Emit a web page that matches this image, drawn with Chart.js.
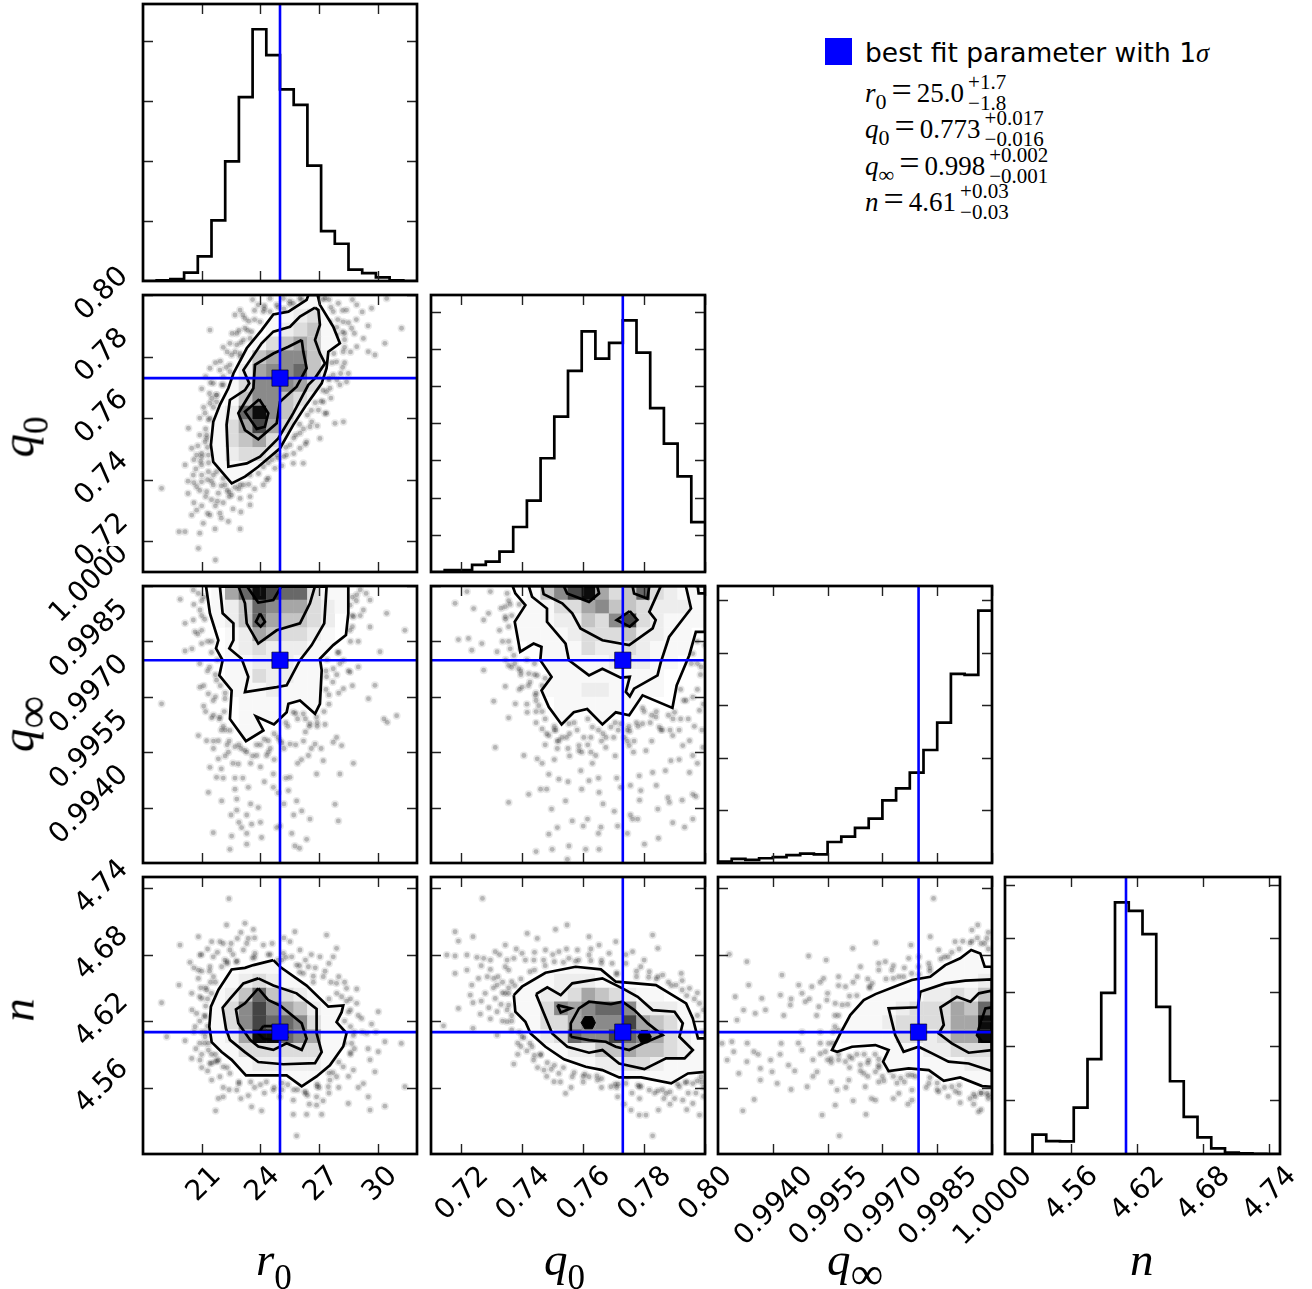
<!DOCTYPE html>
<html>
<head>
<meta charset="utf-8">
<title>corner plot</title>
<script src="https://cdn.jsdelivr.net/npm/chart.js@4"></script>
<style>
html, body { margin: 0; padding: 0; background: #fff; overflow: hidden; width: 1312px; height: 1289px; }
canvas { position: absolute; display: block; }
.txt { position: absolute; white-space: nowrap; color: #000; line-height: 1; }
.math { font-family: "Liberation Serif", serif; }
.math i { font-style: italic; }
.axisname { font-size: 47px; }
.axisname sub { font-size: 35px; vertical-align: -14px; line-height: 0; font-style: normal; }
.axisname sub.inf { font-size: 46px; }
.eq { font-size: 27px; }
.eq sub.low { font-size: 22px; vertical-align: -7px; line-height: 0; }
.eq .same { font-size: 36px; line-height: 0; margin: 0 5px 0 5px; }
.ss { display: inline-block; position: relative; width: 0; vertical-align: baseline; }
.ss span { position: absolute; left: 4px; font-size: 21px; white-space: nowrap; }
</style>
</head>
<body>
<script>
// tick labels
var r0Ticks = [21, 24, 27, 30];
var q0Ticks = [0.72, 0.74, 0.76, 0.78, 0.80];
var qInfTicks = [0.9940, 0.9955, 0.9970, 0.9985, 1.0000];
var nTicks = [4.56, 4.62, 4.68, 4.74];

// axis ranges
var r0Range = [18, 32];
var q0Range = [0.71, 0.80];
var qInfRange = [0.9925, 1.0];
var nRange = [4.5, 4.75];

// best fit values
var bestFit = { r0: 25.0, q0: 0.773, qInf: 0.99799, n: 4.61 };

// 1d histograms, 20 bins each
var r0Hist = [0, 1, 3, 14, 41, 101, 199, 306, 419, 376, 319, 293, 192, 83, 62, 19, 13, 6, 1, 0];
var q0Hist = [0, 5, 5, 19, 28, 55, 121, 192, 306, 418, 541, 647, 574, 616, 677, 590, 441, 345, 257, 134];
var qInfHist = [2.5, 8, 6, 9, 11, 15, 18, 16.5, 40, 50, 67, 84.5, 119, 142, 172, 215, 267, 360, 358, 480];
var nHist = [0, 0, 36, 24, 23.5, 86, 176, 299, 467, 451, 408, 273, 135, 69, 31, 10.5, 2.5, 1, 0.5, 0];

var r0HistTicks = [100, 200, 300, 400];
var q0HistTicks = [100, 200, 300, 400, 500, 600, 700];
var qInfHistTicks = [100, 200, 300, 400, 500];
var nHistTicks = [100, 200, 300, 400, 500];
var r0HistMax = 461, q0HistMax = 745, qInfHistMax = 527, nHistMax = 514;

// 2d histogram levels, one string per row from the top, one digit per column
var r0Q0Cells = ["00000000001111", "00000000011231", "00000000012341", "000000001345411", "00000001456642", "00000002566742", "00000013666531", "00000014664320", "00000127964210", "00000135853200", "00000134532100", "00000123321000", "00000111110000", "00000011000000"];
var r0QInfCells = ["0000015798773110", "0000012476553210", "0000012475443200", "00000012543321", "00000012322211", "000000112221110", "00000011322111", "00000011121111", "0000000111111", "0000000111", "000000011"];
var q0QInfCells = ["00000001468953473211", "00000011133564432221", "00000011122436832111", "0000001111233342211", "0000000111132232111", "000000001111122211", "00000000111111111", "00000000111221111", "0000000001111111", "00000000011111"];
var r0NCells = ["", "", "", "", "", "", "00000001111", "000000123211", "0000012474321", "000001368654211", "000001368776311", "000001259976511", "000001133333311", "00000011222221", "0000000111111"];
var q0NCells = ["", "", "", "", "", "", "0000000011111", "00000001122211", "00000011223543211", "0000001136567762221", "00000011335666854311", "00000001237668765321", "00000001112244544321", "00000000111122332111", "00000000000111111111"];
var qInfNCells = ["", "", "", "", "", "0000000000000000011", "00000000000000001111", "00000000000000111112", "00000000000111122324", "00000000001112333547", "00000000011123333559", "00000000011113323559", "00000000000011122333", "00000000000011111122", "00000000000000011111"];

// contour outlines, outermost first
var r0Q0Contours = [
  [[26.45,.8],[26.36,.7984],[25.43,.7946],[24.66,.7937],[24.06,.7886],[23.3,.7827],[22.62,.7745],[22.36,.7697],[21.93,.7643],[21.59,.7588],[21.47,.7513],[21.59,.7458],[22.53,.7388],[23.21,.741],[23.89,.7442],[25,.7502],[25.68,.7578],[26.28,.7637],[27.13,.7713],[27.38,.7762],[27.47,.7816],[28.06,.7843],[27.72,.7897],[27.04,.7968],[26.92,.8]],
  [[26.79,.7959],[26.02,.793],[25.51,.7897],[24.66,.7881],[24.06,.7843],[23.13,.7756],[23.43,.7713],[23.21,.7691],[22.44,.7659],[22.27,.7578],[22.36,.7442],[23.3,.7453],[23.98,.7475],[24.91,.7534],[25.68,.7616],[26.45,.7708],[26.79,.773],[27.3,.7778],[27.04,.781],[26.79,.7854],[27.04,.7903],[26.96,.7951]],
  [[26.11,.7854],[25.43,.7832],[24.66,.781],[23.72,.7773],[23.64,.7697],[22.87,.7616],[23.21,.7561],[23.89,.7531],[24.83,.7583],[25,.7653],[25.85,.7702],[26.36,.7762],[26.19,.7816]],
  [[23.94,.7661],[23.21,.7621],[23.81,.7565],[24.23,.7572],[24.4,.7616]]
];
var r0QInfContours = [
  [[21.22,1],[21.42,.99926],[21.85,.99853],[21.73,.99831],[22.07,.99799],[21.9,.99758],[22.53,.99717],[22.44,.9964],[23.26,.9958],[24.15,.99609],[23.77,.99647],[24.69,.99625],[25.34,.99658],[25.43,.99681],[26.02,.9969],[26.79,.99654],[27.04,.99681],[27.13,.99772],[27.04,.99803],[27.72,.9984],[28.37,.99867],[28.49,.99926],[28.49,1]],
  [[21.93,.99998],[22.07,.99926],[22.62,.99899],[22.62,.99853],[22.41,.99831],[23.04,.99803],[23.38,.99754],[23.21,.99713],[24.83,.99726],[25.34,.99731],[26.02,.99799],[26.62,.9984],[27.26,.99899],[27.38,.99998]],
  [[22.87,1],[23.21,.99953],[23.3,.99899],[23.89,.99844],[24.83,.9988],[26.02,.99899],[26.53,.99953],[26.79,1]],
  [[23.3,1],[23.89,.99955],[24.66,.99962],[25.08,1]],
  [[23.98,.99926],[23.77,.99903],[24.01,.9989],[24.23,.99903]]
];
var q0QInfContours = [
  [[.7368,1],[.7377,.9998],[.741,.99948],[.7375,.99903],[.7393,.99822],[.7437,.99844],[.7463,.99835],[.7459,.99799],[.7496,.99754],[.7463,.99717],[.7487,.99672],[.7529,.99625],[.7569,.99658],[.7613,.99667],[.7663,.99625],[.7707,.99658],[.7751,.9965],[.7795,.99704],[.7893,.9967],[.7907,.99731],[.7948,.99812],[.797,.99876],[.8,.99876],[.8,1]],
  [[.7421,1],[.7432,.99971],[.7481,.99939],[.7481,.99903],[.7542,.99844],[.7553,.99799],[.7619,.99758],[.7663,.99776],[.7723,.99752],[.7753,.99754],[.774,.99713],[.7753,.99701],[.7767,.99722],[.7844,.99758],[.7855,.99794],[.7882,.99862],[.7954,.99939],[.7937,1]],
  [[.7465,1],[.747,.99978],[.7531,.99953],[.7564,.99926],[.7591,.99885],[.7663,.99853],[.7751,.9984],[.7828,.99885],[.7838,.99908],[.7817,.9993],[.7855,1]],
  [[.7536,1],[.7547,.9998],[.7619,.99957],[.7652,.9998],[.7646,1]],
  [[.7762,1],[.7767,.9998],[.7811,.99966],[.7817,1]],
  [[.7753,.99932],[.771,.99908],[.7753,.9989],[.7778,.99908]],
  [[.7976,1],[.7979,.9998],[.8,.9998],[.8,1]]
];
var r0NContours = [
  [[24.66,4.675],[23.64,4.6705],[23.21,4.668],[22.53,4.6666],[21.85,4.648],[21.47,4.633],[21.39,4.615],[21.51,4.601],[22.02,4.592],[22.53,4.585],[23.26,4.571],[25.34,4.571],[26.11,4.561],[26.87,4.57],[27.55,4.58],[28.23,4.597],[28.4,4.609],[27.89,4.619],[28.15,4.628],[28.23,4.634],[27.47,4.633],[26.36,4.652],[25,4.669]],
  [[23.89,4.6585],[23.13,4.654],[22.44,4.64],[22.07,4.632],[22.24,4.613],[22.44,4.603],[23.21,4.592],[23.89,4.583],[25.17,4.581],[26.79,4.582],[27.13,4.592],[26.87,4.609],[26.87,4.631],[25.85,4.645],[24.66,4.652]],
  [[23.89,4.6495],[23.21,4.636],[22.75,4.6305],[22.87,4.618],[23.47,4.603],[23.89,4.597],[24.66,4.594],[25.34,4.6],[26.11,4.594],[26.36,4.604],[26.11,4.618],[25,4.634],[24.39,4.639]],
  [[24.15,4.6155],[23.89,4.609],[24.15,4.604],[24.66,4.603],[25.34,4.606],[25,4.6155]]
];
var q0NContours = [
  [[.7372,4.6434],[.7399,4.651],[.7476,4.6636],[.7575,4.669],[.7658,4.6666],[.7707,4.6555],[.7839,4.6525],[.7938,4.6359],[.796,4.6224],[.7977,4.6043],[.8,4.6043],[.8,4.5742],[.7944,4.5727],[.7889,4.5637],[.779,4.5691],[.7718,4.5691],[.7663,4.5757],[.7608,4.5787],[.7537,4.5854],[.7476,4.5968],[.7427,4.6088],[.741,4.6194],[.7377,4.6284]],
  [[.7445,4.6443],[.7482,4.6504],[.7526,4.6434],[.7564,4.654],[.7663,4.6585],[.7729,4.6495],[.7779,4.6419],[.7828,4.6299],[.79,4.6284],[.7927,4.6179],[.7916,4.6058],[.796,4.5938],[.7933,4.5863],[.7872,4.5863],[.7801,4.5766],[.7718,4.5817],[.7663,4.5938],[.7619,4.5914],[.7548,4.5968],[.7498,4.6088],[.7471,4.6269]],
  [[.7559,4.6058],[.7559,4.6179],[.7586,4.6314],[.7619,4.6374],[.7691,4.6353],[.7729,4.6374],[.7768,4.6299],[.7812,4.6179],[.7861,4.6073],[.7795,4.5998],[.7751,4.5938],[.7707,4.5968],[.7674,4.6013],[.7619,4.6028]],
  [[.7515,4.6344],[.7559,4.6314],[.7526,4.6278]]
];
var q0NBlobs = [
  [[.7605,4.624],[.763,4.624],[.764,4.6185],[.763,4.613],[.7605,4.613],[.7593,4.6185]],
  [[.779,4.6113],[.7812,4.6113],[.7824,4.6058],[.7812,4.6003],[.779,4.6003],[.778,4.6058]]
];
var qInfNContours = [
  [[1,4.669],[.9998,4.669],[.99968,4.681],[.99943,4.6841],[.99913,4.6766],[.99872,4.6705],[.99831,4.66],[.99781,4.657],[.99745,4.6525],[.99681,4.6443],[.99649,4.6389],[.99612,4.6254],[.99585,4.6088],[.99562,4.5938],[.99576,4.5923],[.99617,4.5968],[.99681,4.5983],[.99717,4.5938],[.99702,4.5833],[.99717,4.5748],[.99772,4.5772],[.99827,4.5757],[.99868,4.5661],[.99913,4.5691],[.99973,4.5613],[1,4.5607]],
  [[1,4.6576],[.99927,4.6565],[.99872,4.654],[.99804,4.6465],[.99797,4.6324],[.99717,4.6314],[.99735,4.6073],[.99758,4.5923],[.99799,4.5968],[.99836,4.5908],[.99881,4.5833],[.99936,4.5817],[1,4.5748]],
  [[1,4.6474],[.99964,4.645],[.99941,4.6374],[.99904,4.6419],[.99859,4.6323],[.99868,4.6164],[.99854,4.6088],[.9989,4.5998],[.99936,4.5914],[1,4.5938]],
  [[1,4.6323],[.99982,4.6314],[.99964,4.6134],[.99959,4.6073],[.99973,4.6013],[1,4.6013]]
];

// samples outside the outer contour
var r0Q0Dots = [[18.95,.7372],[20.83,.7177],[21.7,.7139],[19.84,.7231],[20.15,.7231],[20.9,.7226],[21.68,.724],[22.96,.724],[20.49,.7285],[20.74,.7301],[21.08,.7258],[21.42,.7285],[21.93,.7291],[22.36,.7264],[23.47,.7345],[23.47,.7318],[22.53,.735],[20.74,.7377],[20.99,.7393],[21.25,.7361],[21.59,.7383],[21.85,.7356],[22.19,.7383],[20.57,.7415],[20.15,.7448],[20.74,.748],[20.49,.7502],[21.17,.7523],[21.34,.7426],[20.99,.7448],[22.96,.7339],[23.13,.7383],[24.15,.7383],[24.32,.7399],[24.74,.7437],[25.68,.7453],[26.19,.7453],[25.34,.748],[26.02,.7502],[26.53,.7572],[27.04,.7534],[26.36,.7523],[27.38,.7616],[27.81,.7583],[28.24,.7588],[28.06,.7708],[27.55,.7697],[28.4,.7718],[28.49,.7745],[29.51,.7816],[29.85,.7805],[30.36,.7843],[31.21,.7892],[29.68,.7957],[30.45,.7989],[28.92,.7832],[29.26,.7859],[28.66,.7892],[28.4,.7951],[27.98,.7973],[28.23,.7913],[27.72,.7946],[28.92,.7968],[22.96,.7951],[23.89,.7968],[23.21,.7924],[21.42,.7886],[22.79,.7875],[23.21,.7892],[23.55,.7881],[22.44,.7843],[22.79,.7838],[23.13,.7854],[22.53,.7805],[22.96,.781],[21.42,.7762],[21.93,.7756],[22.44,.7773],[21.59,.7713],[22.02,.7708],[21.42,.7648],[21.17,.7616],[21.51,.7664],[21.76,.7675],[20.32,.7567],[21.25,.7545],[24.49,.7989],[24.83,.7968],[25.17,.7989],[25.68,.7973],[26.02,.7989],[24.15,.7946],[27.38,.7686],[27.21,.7653],[26.96,.7626],[26.62,.7588],[26.02,.7551],[25.51,.7513],[24.83,.748],[24.15,.7442],[23.47,.7415],[22.96,.7383],[22.1,.7404],[21.76,.7426],[21.34,.748],[21.25,.7534],[21.42,.7599],[21.76,.7653],[22.1,.7708],[22.44,.7751],[22.96,.78],[23.47,.7859],[23.98,.7913],[24.49,.7946],[27.55,.7913],[27.89,.787],[28.23,.7816],[27.89,.7783],[27.72,.774],[27.6,.7665],[27.3,.7615],[26.9,.7575],[26.3,.7515],[25.7,.7485],[25.1,.7445],[24.4,.7405],[23.7,.737],[22.3,.7365],[21.5,.7395],[21,.7475],[20.9,.7545],[21.1,.7635],[21.45,.7715],[21.95,.7785],[22.55,.7875],[23.1,.7935],[23.6,.7985],[28.3,.7875],[28.6,.7815],[28.2,.7765]];
var r0Q0MoreDots = [[20.3,.7395],[20.6,.739],[20.9,.7365],[21.2,.7345],[21.5,.7335],[21.8,.733],[22.1,.7325],[22.4,.7345],[22.7,.7375],[21,.7415],[21.3,.74],[20.7,.7435],[20.95,.746],[20.6,.7465],[20.8,.751],[21,.7485],[20.6,.7325],[21,.7315],[21.3,.729],[21.7,.7315],[22,.7275],[22.6,.7305],[23,.7295],[20.3,.7355],[24.6,.7465],[25.2,.7475],[25.8,.7545],[26.2,.7565],[26.6,.7625],[27.1,.7655],[27.5,.7725],[27.9,.7725],[28.1,.7745],[28.3,.778],[27.9,.7895],[28.2,.795],[28.5,.791],[28.9,.792],[28.3,.7855],[28.8,.7875],[27.5,.7985],[27.2,.7985],[28.7,.7985],[29.2,.7945],[29.5,.79],[23.4,.7915],[23.7,.795],[24.2,.7965],[22.9,.7885],[22.3,.7815],[22.1,.783],[21.7,.778],[21.2,.7735],[21.4,.768],[21,.7695],[20.9,.76],[22.7,.7935],[25.5,.798],[26,.7955],[25.2,.7955]];
var r0Q0RimDots = [[21.2,.7565],[21.3,.7505],[21.35,.7455],[21.6,.7415],[22,.738],[22.4,.736],[22.9,.737],[23.4,.7385],[23.9,.742],[24.4,.7455],[24.9,.747],[25.3,.7505],[25.7,.7535],[26,.758],[26.4,.761],[26.8,.765],[27.2,.769],[27.5,.773],[27.65,.778],[27.75,.781],[28.3,.783],[28.2,.788],[27.95,.792],[27.6,.796],[27.3,.799],[21.75,.7675],[21.6,.7635],[21.35,.7595],[22.1,.7735],[22.25,.7765],[22.7,.7815],[23,.7845],[23.35,.7885],[23.7,.792],[24.2,.7955],[24.9,.796],[25.5,.797],[26.1,.7985]];
var r0QInfDots = [[18.95,.99681],[20.15,.99824],[20.15,.99899],[19.9,.99964],[20.66,.99876],[20.57,.99908],[20.91,.99935],[21,.9988],[20.91,.99726],[21.34,.99708],[22.19,.99695],[21.59,.9969],[21.51,.99643],[21.93,.99645],[21.76,.99745],[20.83,.99595],[21.25,.99581],[21.85,.99581],[22.36,.9955],[21.85,.99532],[22.44,.99609],[23.3,.9955],[23.81,.99541],[24.32,.99541],[24.4,.99581],[25,.99581],[25.51,.99572],[26.19,.99654],[25.68,.99658],[26.53,.99627],[26.87,.99645],[26.79,.99572],[27.72,.99577],[28.15,.99568],[26.45,.99541],[28.75,.9952],[27.89,.9959],[27.21,.99527],[28.06,.99491],[26.87,.99491],[21.76,.99482],[21.42,.99509],[22.87,.99518],[23.38,.99455],[22.79,.99423],[22.79,.99393],[23.89,.994],[22.02,.99418],[21.34,.99441],[24.66,.99491],[25.51,.99482],[25.43,.99446],[25.85,.99418],[24.66,.99455],[26.53,.99369],[26.11,.99391],[27.81,.99409],[27.98,.99364],[24.06,.99319],[23.3,.99301],[22.44,.99287],[23.04,.99346],[23.55,.99355],[22.53,.99323],[21.59,.99332],[24.83,.99346],[25.76,.99296],[26.36,.99314],[28.24,.99799],[28.06,.9979],[27.72,.99776],[27.38,.99754],[28.58,.99767],[29,.99781],[28.24,.99722],[28.92,.99976],[29.6,.99962],[29.26,.99935],[28.75,.99917],[28.58,.9988],[29.6,.99889],[30.45,.99926],[30.11,.99822],[31.38,.9988],[29.52,.99695],[29.85,.99731],[30.31,.9964],[30.48,.99631],[30.96,.99649],[28.58,.99948],[20.83,.9998],[20.57,.99989],[21,.99844],[22.1,.9962],[22.9,.9957],[24,.9951],[24.7,.9953],[25.3,.9948],[25.9,.9952],[26.3,.99605],[27.3,.99625],[27.5,.99705],[27.7,.9974],[21.3,.9977],[21.1,.99675],[21.6,.9956],[22,.99505],[22.7,.9948],[23.5,.9952],[26.2,.9958],[27.1,.9956]];
var r0QInfMoreDots = [[21.2,.9966],[21.6,.9965],[22,.9961],[22.3,.9957],[21.6,.9958],[22.2,.9954],[22.6,.9952],[23,.9956],[23.6,.9954],[24,.9957],[24.5,.9956],[24.9,.9959],[25.4,.9962],[25.9,.9964],[26.5,.9962],[26.9,.9962],[25.2,.9956],[25.8,.9957],[26.1,.9953],[26.6,.9956],[21.1,.9973],[21.4,.9978],[21.3,.9985],[21,.9992],[21.1,.9997],[20.6,.9995],[20.8,.9987],[20.5,.9983],[20.9,.9979],[28,.9982],[28.5,.9977],[27.9,.9976],[27.5,.9968],[28,.9971],[28.7,.9973],[28.7,.9989],[29.1,.9992],[29,.9985],[28.9,.9996],[29.4,.9998],[29.1,.9999],[22.1,.9948],[22.7,.9945],[23.1,.9948],[24.2,.9947],[24.9,.9944],[25.2,.9941],[25.7,.9938],[23.5,.9941],[23.3,.9938],[24,.9936],[22.5,.9938],[22.9,.9936],[23.3,.9933],[25,.9935],[25.6,.9933],[26,.9929]];
var r0QInfRimDots = [[21,.9996],[21.15,.9991],[21.5,.9985],[21.5,.9982],[21.8,.998],[21.7,.9976],[22.2,.9971],[22.15,.9966],[22.2,.9961],[22.7,.99565],[23.2,.99555],[23.8,.9957],[24.2,.99585],[24.7,.996],[25.3,.9963],[25.8,.99655],[26.3,.9964],[26.9,.9963],[27.25,.9966],[27.35,.9972],[27.35,.9977],[27.4,.998],[27.95,.9982],[28.6,.9985],[28.7,.9992],[28.7,.9997],[21.95,.9973],[21.7,.997],[21.9,.9964],[22.4,.9958],[24.4,.9955],[25.1,.99575]];
var q0QInfDots = [[.7179,.99953],[.724,.99939],[.7218,.99985],[.7295,.99985],[.7344,.99944],[.7289,.99926],[.7273,.99908],[.7267,.99844],[.7344,.99917],[.7223,.99858],[.719,.99855],[.7234,.99826],[.7317,.99822],[.7372,.99812],[.7355,.99785],[.7388,.99776],[.7273,.99772],[.7421,.99763],[.7449,.99758],[.7344,.99728],[.7399,.99726],[.7443,.99704],[.7306,.99688],[.7377,.99681],[.7454,.99676],[.7355,.99643],[.7416,.99658],[.7465,.99613],[.7487,.99595],[.752,.99581],[.7586,.99568],[.7602,.9959],[.763,.99618],[.7553,.99627],[.7691,.99618],[.7724,.99627],[.7753,.99607],[.7767,.9958],[.7795,.99627],[.7839,.99645],[.7894,.99595],[.7927,.99568],[.796,.99541],[.7949,.99581],[.785,.99618],[.7806,.99554],[.7751,.99568],[.7674,.99563],[.7641,.99541],[.7586,.99554],[.7311,.99563],[.7405,.99541],[.7449,.99532],[.752,.99477],[.7487,.9949],[.7592,.995],[.7619,.99473],[.7652,.99441],[.7723,.99455],[.7784,.99486],[.7789,.99446],[.7828,.99495],[.7888,.99527],[.7949,.99495],[.7878,.99427],[.7883,.99414],[.7845,.99396],[.796,.99436],[.7355,.99414],[.746,.9945],[.7421,.99436],[.7542,.99418],[.7496,.99396],[.7564,.99364],[.7614,.99369],[.7702,.9939],[.7658,.99347],[.7515,.99346],[.7487,.99328],[.7762,.99369],[.7779,.99369],[.7894,.99359],[.7933,.99347],[.796,.99369],[.7847,.99317],[.7801,.99301],[.7713,.9935],[.7445,.99281],[.7498,.99287],[.7548,.9926],[.7608,.99287],[.7652,.99287],[.7553,.99296],[.7993,.99563],[.7982,.99663],[.796,.99699],[.7987,.99781],[.796,.99817],[.7938,.9969],[.79,.99658],[.7445,.9966],[.7475,.9964],[.751,.9961],[.7545,.9959],[.758,.9961],[.7625,.9959],[.766,.9958],[.77,.9959],[.7735,.9959],[.778,.9962],[.782,.9963],[.788,.9965],[.792,.9964],[.7975,.9972],[.7975,.9979],[.742,.9973],[.7395,.9977],[.736,.9983]];
var q0QInfMoreDots = [[.7445,.9969],[.7415,.9968],[.739,.9972],[.7425,.9974],[.7465,.9973],[.7395,.9976],[.7365,.9978],[.7345,.998],[.7335,.9985],[.7325,.9988],[.7345,.9991],[.733,.9994],[.736,.9995],[.735,.9998],[.7505,.9962],[.7475,.9957],[.7515,.9956],[.7555,.996],[.755,.9956],[.7595,.9955],[.7615,.9957],[.765,.9961],[.7675,.9959],[.7715,.9961],[.7745,.9961],[.7775,.9963],[.78,.9966],[.7825,.9965],[.786,.9961],[.7885,.9961],[.7915,.9961],[.7945,.9964],[.7965,.9962],[.799,.9961],[.7995,.9968],[.7985,.9976],[.793,.9969],[.7825,.9958],[.7765,.9955],[.7705,.9954],[.763,.9952],[.7555,.9954],[.7505,.9953],[.7465,.9952],[.748,.9945],[.755,.9947],[.7595,.9945],[.765,.9948],[.771,.9948],[.7755,.9946],[.787,.995],[.7915,.9953],[.7975,.9952],[.797,.9943],[.7925,.9942],[.784,.9946],[.7665,.9941],[.7755,.9938],[.7745,.9933],[.765,.9933],[.76,.9935],[.7785,.9942]];
var q0QInfRimDots = [[.7355,.9996],[.7365,.9992],[.7355,.9985],[.7375,.9979],[.7415,.998],[.744,.9979],[.744,.9976],[.7475,.9975],[.7445,.9971],[.7465,.9966],[.7505,.9961],[.753,.9959],[.757,.9963],[.7615,.9964],[.7665,.996],[.7705,.9963],[.775,.9962],[.7795,.9967],[.784,.9966],[.7895,.9964],[.792,.9972],[.7955,.9979],[.7975,.9985],[.8,.9984],[.7855,.9961],[.7745,.9958],[.7625,.9955],[.7515,.9958],[.748,.996],[.7445,.9963],[.7395,.9983],[.7355,.9989],[.739,.9995]];
var r0NDots = [[22.39,4.7304],[22.27,4.7067],[23.21,4.7082],[23.64,4.7027],[22.82,4.6946],[23.38,4.6946],[20.83,4.6961],[19.89,4.6886],[21.51,4.6916],[21.93,4.6916],[22.44,4.6841],[23.13,4.6841],[23.72,4.6811],[24.15,4.6886],[20.91,4.6796],[21.59,4.678],[22.18,4.675],[22.77,4.6735],[20.83,4.666],[21.42,4.669],[22.02,4.669],[25.51,4.6916],[25.76,4.7006],[25.17,4.6811],[26.02,4.6841],[27.38,4.6976],[27.89,4.6856],[27.04,4.678],[27.72,4.678],[25.85,4.6705],[26.45,4.669],[26.19,4.663],[27.21,4.66],[27.89,4.654],[28.4,4.6495],[28.92,4.6489],[28.15,4.6419],[28.92,4.636],[30.02,4.6284],[29.68,4.6173],[30.36,4.6013],[31.2,4.5998],[29.17,4.6224],[29.43,4.6088],[30.02,4.5923],[28.66,4.5998],[28.75,4.5757],[29.85,4.5742],[29.26,4.5636],[28.23,4.5787],[27.89,4.5697],[28.49,4.5456],[29.51,4.5516],[29.6,4.5396],[30.36,4.5432],[31.38,4.5607],[27.47,4.5607],[26.87,4.5516],[26.87,4.5441],[25.68,4.5486],[25.68,4.5357],[26.36,4.5357],[27.13,4.5357],[25.85,4.5164],[24.06,4.539],[23.55,4.5426],[21.71,4.539],[21.85,4.5501],[22.1,4.5516],[23.38,4.5527],[22.79,4.5577],[24.66,4.5577],[25,4.5516],[26.28,4.5562],[21.51,4.5667],[21.93,4.5697],[22.44,4.5727],[22.1,4.5787],[21.42,4.5817],[20.49,4.5863],[20.91,4.5848],[20.15,4.6022],[19.21,4.6058],[18.95,4.6365],[19.84,4.6525],[20.83,4.6585],[20.49,4.645],[21,4.6404],[20.74,4.6269],[21.17,4.6239],[20.66,4.6149],[21.17,4.6058],[21.34,4.5938],[21.25,4.648],[21.8,4.5838],[21.7,4.5898],[26.9,4.5607],[27.55,4.5667],[21.2,4.6335],[21.3,4.6155],[21.35,4.6],[21.7,4.5835],[22.9,4.5635],[24,4.5625],[25.4,4.5625],[26.4,4.553],[27.7,4.5735],[28.6,4.5915],[28.8,4.61],[28.6,4.63],[27.9,4.645],[26.7,4.6605],[25.3,4.6775],[23.7,4.6775],[22.3,4.6735],[21.45,4.655],[20.95,4.65]];
var r0NMoreDots = [[21,4.68],[21.3,4.685],[21.8,4.682],[22.6,4.68],[23.3,4.69],[23.7,4.695],[24.4,4.68],[24.9,4.675],[25.6,4.678],[26.3,4.675],[26.8,4.668],[27.3,4.665],[27.6,4.655],[28,4.66],[28.6,4.64],[29,4.625],[29.2,4.61],[28.8,4.595],[29.5,4.595],[29.9,4.61],[29.6,4.585],[28.5,4.57],[29,4.56],[27.5,4.555],[28,4.56],[27.2,4.548],[26.5,4.545],[25.9,4.558],[25.1,4.558],[24.2,4.555],[23.7,4.56],[23,4.55],[22.4,4.558],[22.1,4.56],[21.3,4.575],[21,4.578],[20.7,4.595],[20.6,4.61],[20.9,4.62],[20.5,4.63],[20.9,4.642],[21,4.665],[21.4,4.665],[21.6,4.66],[20.6,4.668],[20.4,4.673],[21.2,4.61],[21,4.59],[22.5,4.69],[22.1,4.69],[23,4.7],[24.6,4.69],[25.2,4.695],[26.6,4.68],[26,4.67],[27.5,4.672],[28.3,4.655],[28.3,4.6],[28.6,4.615],[27,4.56]];
var r0NRimDots = [[21.2,4.65],[21.3,4.64],[21.15,4.625],[21.15,4.6],[21.5,4.59],[21.85,4.585],[22.3,4.578],[22.9,4.565],[23.5,4.565],[24.3,4.565],[25.1,4.564],[25.7,4.558],[26.3,4.555],[26.9,4.563],[27.5,4.573],[28,4.583],[28.6,4.59],[28.75,4.607],[28.3,4.62],[28.5,4.628],[28.4,4.638],[27.5,4.64],[26.7,4.655],[26,4.664],[25.1,4.675],[24.5,4.68],[23.6,4.677],[22.8,4.674],[22.3,4.672],[21.7,4.655],[21.5,4.645],[21,4.61],[20.9,4.6],[21.5,4.582],[24.7,4.56]];
var q0NDots = [[.7269,4.7307],[.7179,4.7006],[.7238,4.6961],[.719,4.6922],[.7179,4.6787],[.7218,4.6796],[.7251,4.6775],[.7273,4.6766],[.7152,4.6796],[.7218,4.666],[.7179,4.663],[.7256,4.6585],[.7311,4.6826],[.7344,4.6886],[.7344,4.669],[.7355,4.666],[.7295,4.6666],[.7306,4.6585],[.7234,4.6525],[.7317,4.6525],[.7278,4.645],[.7229,4.6434],[.7238,4.6365],[.719,4.6314],[.7311,4.6404],[.7344,4.645],[.7262,4.6263],[.7317,4.6284],[.7355,4.6344],[.7141,4.6157],[.7238,4.6134],[.7317,4.6073],[.735,4.6194],[.7399,4.6058],[.7372,4.5812],[.7437,4.5848],[.7482,4.5824],[.746,4.5893],[.7432,4.5968],[.7471,4.5757],[.7504,4.5652],[.7542,4.5547],[.752,4.5727],[.7564,4.5697],[.7619,4.5697],[.7647,4.5667],[.7691,4.5607],[.7713,4.5516],[.774,4.5637],[.7784,4.5607],[.7757,4.5396],[.7784,4.5351],[.7806,4.5351],[.7847,4.5396],[.7828,4.5164],[.7817,4.5577],[.7872,4.5547],[.7927,4.5486],[.796,4.5456],[.7982,4.5351],[.7916,4.5607],[.796,4.5636],[.7987,4.5697],[.7982,4.6359],[.7949,4.6495],[.7905,4.6525],[.7861,4.6615],[.7828,4.6976],[.7845,4.6856],[.7762,4.6826],[.7707,4.6916],[.7789,4.669],[.7817,4.6645],[.774,4.672],[.7619,4.6961],[.7547,4.7067],[.7509,4.7027],[.7449,4.6946],[.7416,4.6991],[.7476,4.6841],[.752,4.6826],[.7581,4.6841],[.7553,4.6766],[.7438,4.675],[.7399,4.6811],[.7652,4.6886],[.7685,4.6811],[.7619,4.6796],[.7372,4.6766],[.7922,4.663],[.7365,4.612],[.7395,4.597],[.744,4.589],[.7495,4.5765],[.757,4.5735],[.7645,4.5705],[.7705,4.563],[.778,4.562],[.786,4.558],[.7935,4.5645],[.799,4.565],[.7975,4.6455],[.7925,4.6565],[.7815,4.6595],[.771,4.6635],[.7625,4.6745],[.7505,4.6735],[.7425,4.6645],[.7365,4.6555],[.7335,4.6455]];
var q0NMoreDots = [[.7265,4.67],[.7295,4.675],[.7325,4.68],[.735,4.675],[.738,4.685],[.741,4.675],[.744,4.682],[.747,4.675],[.75,4.68],[.7545,4.685],[.7585,4.675],[.7625,4.685],[.766,4.675],[.7695,4.672],[.774,4.68],[.7775,4.665],[.78,4.675],[.7845,4.66],[.788,4.655],[.7925,4.648],[.7965,4.64],[.7995,4.63],[.732,4.66],[.7285,4.66],[.7335,4.655],[.7305,4.65],[.7355,4.65],[.7265,4.638],[.729,4.632],[.733,4.635],[.7335,4.62],[.7365,4.625],[.7295,4.622],[.7385,4.6],[.7415,4.593],[.7385,4.59],[.745,4.578],[.748,4.57],[.7525,4.565],[.756,4.56],[.76,4.565],[.766,4.56],[.771,4.56],[.776,4.555],[.7785,4.55],[.7835,4.555],[.7865,4.55],[.79,4.55],[.7945,4.555],[.797,4.555],[.7995,4.56],[.791,4.563],[.7995,4.552],[.7735,4.545],[.7885,4.545],[.794,4.54],[.7745,4.57],[.76,4.57]];
var q0NRimDots = [[.7355,4.645],[.7375,4.652],[.7395,4.658],[.744,4.666],[.7475,4.67],[.7535,4.673],[.7575,4.674],[.766,4.672],[.771,4.662],[.7775,4.66],[.784,4.658],[.789,4.652],[.794,4.643],[.7975,4.625],[.799,4.61],[.735,4.63],[.7365,4.62],[.739,4.61],[.7405,4.605],[.7425,4.6],[.746,4.59],[.7505,4.58],[.7535,4.578],[.7605,4.572],[.766,4.568],[.7715,4.563],[.779,4.561],[.7845,4.557],[.7885,4.556],[.794,4.565],[.7975,4.566]];
var qInfNDots = [[.9984,4.7307],[.99281,4.6802],[.99329,4.6736],[.99498,4.6787],[.99546,4.675],[.99619,4.6856],[.99682,4.6907],[.99778,4.6886],[.99297,4.6419],[.9937,4.6404],[.9932,4.6299],[.99302,4.6209],[.99352,4.6269],[.99334,4.6525],[.99425,4.6615],[.99421,4.6434],[.99471,4.6525],[.99507,4.651],[.99448,4.6344],[.99489,4.6374],[.99539,4.6585],[.9958,4.66],[.99548,4.6389],[.99571,4.6359],[.99526,4.6329],[.99599,4.651],[.99631,4.66],[.9964,4.669],[.9969,4.666],[.99726,4.666],[.99672,4.654],[.99708,4.6736],[.99772,4.6766],[.99799,4.669],[.99758,4.66],[.99827,4.672],[.99854,4.6841],[.99831,4.6961],[.99899,4.6916],[.99945,4.7021],[.99986,4.6946],[.99961,4.7067],[.99635,4.6088],[.9958,4.6118],[.99553,4.5998],[.99544,4.5923],[.99261,4.5998],[.99288,4.6013],[.99275,4.5848],[.99293,4.5923],[.99329,4.5833],[.99348,4.5923],[.99366,4.5772],[.99398,4.5742],[.99394,4.5848],[.99423,4.5998],[.99443,4.5802],[.9948,4.5938],[.99521,4.5742],[.99494,4.5607],[.9945,4.5582],[.99412,4.5637],[.99366,4.5667],[.99307,4.5727],[.99318,4.539],[.99349,4.5492],[.99571,4.5441],[.99535,4.5351],[.99655,4.5357],[.99582,4.5164],[.99576,4.5577],[.99608,4.5667],[.99649,4.5727],[.99662,4.5848],[.99617,4.5863],[.99599,4.5833],[.99681,4.5742],[.99704,4.5661],[.99781,4.5712],[.99781,4.5577],[.99854,4.5562],[.99913,4.5463],[.99954,4.5516],[.99963,4.5381],[.9989,4.5607],[.99827,4.5637],[.99745,4.5547],[.99681,4.5486],[.99781,4.5486],[.99986,4.5547],[.99653,4.5607],[.9959,4.6345],[.9961,4.6425],[.99665,4.651],[.9973,4.6585],[.998,4.662],[.9988,4.678],[.9994,4.6905],[.9953,4.5905],[.9956,4.5825],[.9964,4.5805],[.9969,4.5855],[.9975,4.5685],[.9985,4.564],[.9995,4.554],[.999,4.5565]];
var qInfNMoreDots = [[.9945,4.64],[.995,4.64],[.9955,4.645],[.9953,4.655],[.9948,4.645],[.9943,4.625],[.9938,4.63],[.9952,4.625],[.9957,4.625],[.9957,4.615],[.9953,4.61],[.9948,4.61],[.9958,4.652],[.9962,4.655],[.9966,4.658],[.9969,4.672],[.9973,4.67],[.9976,4.668],[.998,4.678],[.9983,4.665],[.9986,4.676],[.9989,4.682],[.9992,4.692],[.9996,4.695],[.9999,4.7],[.9998,4.69],[.9951,4.585],[.9955,4.585],[.9958,4.585],[.9961,4.578],[.9964,4.575],[.9966,4.57],[.9969,4.565],[.9973,4.57],[.9976,4.565],[.9979,4.57],[.9982,4.56],[.9985,4.558],[.9988,4.552],[.9991,4.555],[.9994,4.55],[.9997,4.555],[.9999,4.55],[.9997,4.54],[.9995,4.545],[.9942,4.59],[.9936,4.59],[.9933,4.6],[.9946,4.575],[.9951,4.57],[.9956,4.565],[.996,4.56],[.9962,4.548],[.9967,4.55],[.9973,4.55],[.9977,4.545],[.9965,4.59],[.9969,4.58],[.9972,4.575],[.9947,4.6]];
var qInfNRimDots = [[.9958,4.59],[.99565,4.6],[.99565,4.61],[.9958,4.625],[.99605,4.635],[.9963,4.643],[.99665,4.65],[.9971,4.658],[.99745,4.66],[.9978,4.663],[.9983,4.668],[.9987,4.678],[.9991,4.685],[.99945,4.692],[.9997,4.69],[.9999,4.685],[.9956,4.586],[.9961,4.588],[.9968,4.59],[.9969,4.578],[.997,4.57],[.9977,4.571],[.9983,4.569],[.9987,4.56],[.9991,4.562],[.9997,4.555],[.9999,4.553],[.9963,4.59],[.9966,4.582],[.9974,4.564],[.9965,4.6],[.9953,4.6]];

// legend text
var legendLabel = "best fit parameter with 1";
var paramRows = [
  { name: "r", sub: "0", value: "25.0", up: "+1.7", down: "\u22121.8" },
  { name: "q", sub: "0", value: "0.773", up: "+0.017", down: "\u22120.016" },
  { name: "q", sub: "\u221e", value: "0.998", up: "+0.002", down: "\u22120.001" },
  { name: "n", sub: "", value: "4.61", up: "+0.03", down: "\u22120.03" }
];

var cellGrays = ["#ffffff", "#f8f8f8", "#ededed", "#dcdcdc", "#c4c4c4", "#a6a6a6", "#8a8a8a", "#686868", "#444444", "#0c0c0c"];
var colLeft = [143, 431, 718, 1005];
var rowTop = [4, 295, 586, 877];
var boxSize = 274;
var boxHeight = 277;

// inside ticks on all four sides and the heavy frame
var framePlugin = {
  id: "cornerFrame",
  beforeDatasetDraw: function(chart, args) {
    var ds = chart.data.datasets[args.index];
    if (ds.clipToDataset === undefined) return;
    var pts = chart.getDatasetMeta(ds.clipToDataset).data;
    var ctx = chart.ctx;
    ctx.save();
    ctx.beginPath();
    pts.forEach(function(p, i) {
      if (i === 0) ctx.moveTo(p.x, p.y); else ctx.lineTo(p.x, p.y);
    });
    ctx.closePath();
    ctx.clip();
  },
  afterDatasetDraw: function(chart, args) {
    var ds = chart.data.datasets[args.index];
    if (ds.clipToDataset !== undefined) chart.ctx.restore();
  },
  afterDatasetsDraw: function(chart) {
    var ctx = chart.ctx, a = chart.chartArea;
    ctx.save();
    ctx.strokeStyle = "#222";
    ctx.lineWidth = 1.4;
    ctx.beginPath();
    chart.scales.x.ticks.forEach(function(t) {
      var px = Math.round(chart.scales.x.getPixelForValue(t.value)) + 0.5;
      ctx.moveTo(px, a.bottom); ctx.lineTo(px, a.bottom - 10);
      ctx.moveTo(px, a.top); ctx.lineTo(px, a.top + 10);
    });
    chart.scales.y.ticks.forEach(function(t) {
      var py = Math.round(chart.scales.y.getPixelForValue(t.value)) + 0.5;
      ctx.moveTo(a.left, py); ctx.lineTo(a.left + 10, py);
      ctx.moveTo(a.right, py); ctx.lineTo(a.right - 10, py);
    });
    ctx.stroke();
    ctx.strokeStyle = "#000";
    ctx.lineWidth = 2.7;
    ctx.strokeRect(a.left, a.top, a.right - a.left, a.bottom - a.top);
    ctx.restore();
  }
};

// the scale boxes take exactly the canvas margin so the plot area stays put
function pinScale(scale, size) {
  if (scale.isHorizontal()) scale.height = size; else scale.width = size;
  scale.paddingLeft = 0;
  scale.paddingRight = 0;
  scale.paddingTop = 0;
  scale.paddingBottom = 0;
}

function makeScale(pos, range, ticks, decimals, showLabels, offset, pad) {
  return {
    type: "linear",
    position: pos,
    min: range[0],
    max: range[1],
    grid: { display: false, drawTicks: false },
    border: { display: false },
    afterBuildTicks: function(scale) {
      scale.ticks = ticks.map(function(v) { return { value: v }; });
    },
    ticks: {
      display: showLabels,
      autoSkip: false,
      minRotation: 45,
      maxRotation: 45,
      labelOffset: offset,
      padding: pad,
      color: "#000",
      font: { family: "DejaVu Sans", size: 28 },
      callback: function(v) { return Number(v).toFixed(decimals); }
    }
  };
}

function toPoints(list) {
  return list.map(function(p) { return { x: p[0], y: p[1] }; });
}

function closed(list) {
  return toPoints(list.concat([list[0]]));
}

function lineSet(points, color, width) {
  return { data: points, showLine: true, borderColor: color, borderWidth: width, pointRadius: 0, fill: false, tension: 0 };
}

function addChart(col, row, xAxis, yAxis, datasets) {
  var leftPad = col === 0 ? 143 : 20;
  var rightPad = row === 3 ? 60 : 10;
  var topPad = 40 < rowTop[row] ? 40 : rowTop[row];
  var bottomPad = row === 3 ? 130 : 10;
  var width = col === 3 ? 275 : boxSize;

  var canvas = document.createElement("canvas");
  canvas.width = width + leftPad + rightPad;
  canvas.height = boxHeight + topPad + bottomPad;
  canvas.style.left = (colLeft[col] - leftPad) + "px";
  canvas.style.top = (rowTop[row] - topPad) + "px";
  document.body.appendChild(canvas);

  xAxis.afterFit = function(scale) { pinScale(scale, bottomPad); };
  yAxis.afterFit = function(scale) { pinScale(scale, leftPad); };

  // first in the list is drawn first
  datasets.forEach(function(ds, i) { ds.order = datasets.length - i; });

  return new Chart(canvas, {
    type: "scatter",
    data: { datasets: datasets },
    plugins: [framePlugin],
    options: {
      responsive: false,
      animation: false,
      events: [],
      devicePixelRatio: 1,
      layout: { autoPadding: false, padding: { left: 0, right: rightPad, top: topPad, bottom: 0 } },
      plugins: { legend: { display: false }, tooltip: { enabled: false } },
      scales: { x: xAxis, y: yAxis }
    }
  });
}

function histChart(col, xRange, xTicks, xDec, hist, yMax, yTicks, best, xOffset) {
  var edge = (xRange[1] - xRange[0]) / hist.length;
  var pts = hist.map(function(v, i) { return { x: xRange[0] + i * edge, y: v }; });
  pts.push({ x: xRange[1], y: hist[hist.length - 1] });
  var steps = lineSet(pts, "#000", 2.7);
  steps.stepped = true;
  var sets = [steps, lineSet([{ x: best, y: 0 }, { x: best, y: yMax }], "#0000ff", 2.6)];
  addChart(col, col,
    makeScale("bottom", xRange, xTicks, xDec, col === 3, xOffset, 6),
    makeScale("left", [0, yMax], yTicks, 0, false, 0, 0),
    sets);
}

function pairChart(col, row, xInfo, yInfo, dots, cells, contours, blobs) {
  var dx = (xInfo.range[1] - xInfo.range[0]) / 20;
  var dy = (yInfo.range[1] - yInfo.range[0]) / 20;
  var cellPts = [], cellColors = [];
  cells.forEach(function(rowText, r) {
    rowText.split("").forEach(function(c, i) {
      var level = parseInt(c, 10);
      if (level > 0) {
        cellPts.push({ x: xInfo.range[0] + (i + 0.5) * dx, y: yInfo.range[1] - (r + 0.5) * dy });
        cellColors.push(cellGrays[level]);
      }
    });
  });

  var sets = [];
  // two passes give the samples the soft edge they have in the picture
  sets.push({ data: toPoints(dots), pointRadius: 4, pointBorderWidth: 0, pointBackgroundColor: "rgba(0,0,0,0.09)", showLine: false });
  sets.push({ data: toPoints(dots), pointRadius: 2.4, pointBorderWidth: 0, pointBackgroundColor: "rgba(0,0,0,0.22)", showLine: false });
  var outer = lineSet(closed(contours[0]), "#fff", 0);
  outer.fill = "shape";
  outer.backgroundColor = "#fff";
  sets.push(outer);
  sets.push({ data: cellPts, pointStyle: "rect", pointRadius: 10, pointBorderWidth: 0, pointBackgroundColor: cellColors, showLine: false, clipToDataset: 2 });
  contours.forEach(function(c) { sets.push(lineSet(closed(c), "#000", 2.7)); });
  (blobs || []).forEach(function(b) {
    var s = lineSet(closed(b), "#000", 1);
    s.fill = "shape";
    s.backgroundColor = "#000";
    sets.push(s);
  });
  sets.push(lineSet([{ x: xInfo.best, y: yInfo.range[0] }, { x: xInfo.best, y: yInfo.range[1] }], "#0000ff", 2.6));
  sets.push(lineSet([{ x: xInfo.range[0], y: yInfo.best }, { x: xInfo.range[1], y: yInfo.best }], "#0000ff", 2.6));
  sets.push({ data: [{ x: xInfo.best, y: yInfo.best }], pointStyle: "rect", pointRadius: 11.5, pointBackgroundColor: "#0000ff", pointBorderColor: "#000", pointBorderWidth: 0.6, showLine: false });

  addChart(col, row,
    makeScale("bottom", xInfo.range, xInfo.ticks, xInfo.dec, row === 3, xInfo.offset, 6),
    makeScale("left", yInfo.range, yInfo.ticks, yInfo.dec, col === 0, yInfo.yOffset, 19),
    sets);
}

var r0Info = { range: r0Range, ticks: r0Ticks, dec: 0, best: bestFit.r0, offset: 15, yOffset: 0 };
var q0Info = { range: q0Range, ticks: q0Ticks, dec: 2, best: bestFit.q0, offset: 23, yOffset: -23 };
var qInfInfo = { range: qInfRange, ticks: qInfTicks, dec: 4, best: bestFit.qInf, offset: 36, yOffset: -37 };
var nInfo = { range: nRange, ticks: nTicks, dec: 2, best: bestFit.n, offset: 23, yOffset: -23 };

histChart(0, r0Range, r0Ticks, 0, r0Hist, r0HistMax, r0HistTicks, bestFit.r0, 15);
histChart(1, q0Range, q0Ticks, 2, q0Hist, q0HistMax, q0HistTicks, bestFit.q0, 23);
histChart(2, qInfRange, qInfTicks, 4, qInfHist, qInfHistMax, qInfHistTicks, bestFit.qInf, 36);
histChart(3, nRange, nTicks, 2, nHist, nHistMax, nHistTicks, bestFit.n, 23);

pairChart(0, 1, r0Info, q0Info, r0Q0Dots.concat(r0Q0MoreDots, r0Q0RimDots), r0Q0Cells, r0Q0Contours);
pairChart(0, 2, r0Info, qInfInfo, r0QInfDots.concat(r0QInfMoreDots, r0QInfRimDots), r0QInfCells, r0QInfContours);
pairChart(1, 2, q0Info, qInfInfo, q0QInfDots.concat(q0QInfMoreDots, q0QInfRimDots), q0QInfCells, q0QInfContours);
pairChart(0, 3, r0Info, nInfo, r0NDots.concat(r0NMoreDots, r0NRimDots), r0NCells, r0NContours);
pairChart(1, 3, q0Info, nInfo, q0NDots.concat(q0NMoreDots, q0NRimDots), q0NCells, q0NContours, q0NBlobs);
pairChart(2, 3, qInfInfo, nInfo, qInfNDots.concat(qInfNMoreDots, qInfNRimDots), qInfNCells, qInfNContours);

// axis names and legend are plain text on top of the canvases
function addText(html, cls, left, top, rotate) {
  var el = document.createElement("div");
  el.className = "txt " + cls;
  el.innerHTML = html;
  el.style.left = left + "px";
  el.style.top = top + "px";
  if (rotate) el.style.transform = "translate(-50%,-50%) rotate(-90deg)";
  document.body.appendChild(el);
  return el;
}

var nameR0 = "<i>r</i><sub>0</sub>";
var nameQ0 = "<i>q</i><sub>0</sub>";
var nameQInf = '<i>q</i><sub class="inf">\u221e</sub>';
var nameN = "<i>n</i>";
addText(nameR0, "math axisname", 256, 1236);
addText(nameQ0, "math axisname", 544, 1236);
addText(nameQInf, "math axisname", 827, 1236);
addText(nameN, "math axisname", 1130, 1236);
addText(nameQ0, "math axisname", 18, 437, true);
addText(nameQInf, "math axisname", 18, 724, true);
addText(nameN, "math axisname", 18, 1010, true);

var swatch = document.createElement("div");
swatch.style.cssText = "position:absolute;left:825px;top:38px;width:27px;height:27px;background:#0000ff";
document.body.appendChild(swatch);
addText(legendLabel + '<span style="font-family:\'Liberation Serif\';font-style:italic">\u03c3</span>', "", 865, 40).style.cssText += ";font-family:'DejaVu Sans';font-size:26.5px";

paramRows.forEach(function(p, i) {
  var html = "<i>" + p.name + "</i>";
  if (p.sub) html += '<sub class="low">' + p.sub + "</sub>";
  html += '<span class="same">=</span>' + p.value + '<span class="ss"><span style="bottom:9px">' + p.up + '</span><span style="top:-9px">' + p.down + "</span></span>";
  addText(html, "math eq", 865, 80 + i * 36.4);
});
</script>
</body>
</html>
